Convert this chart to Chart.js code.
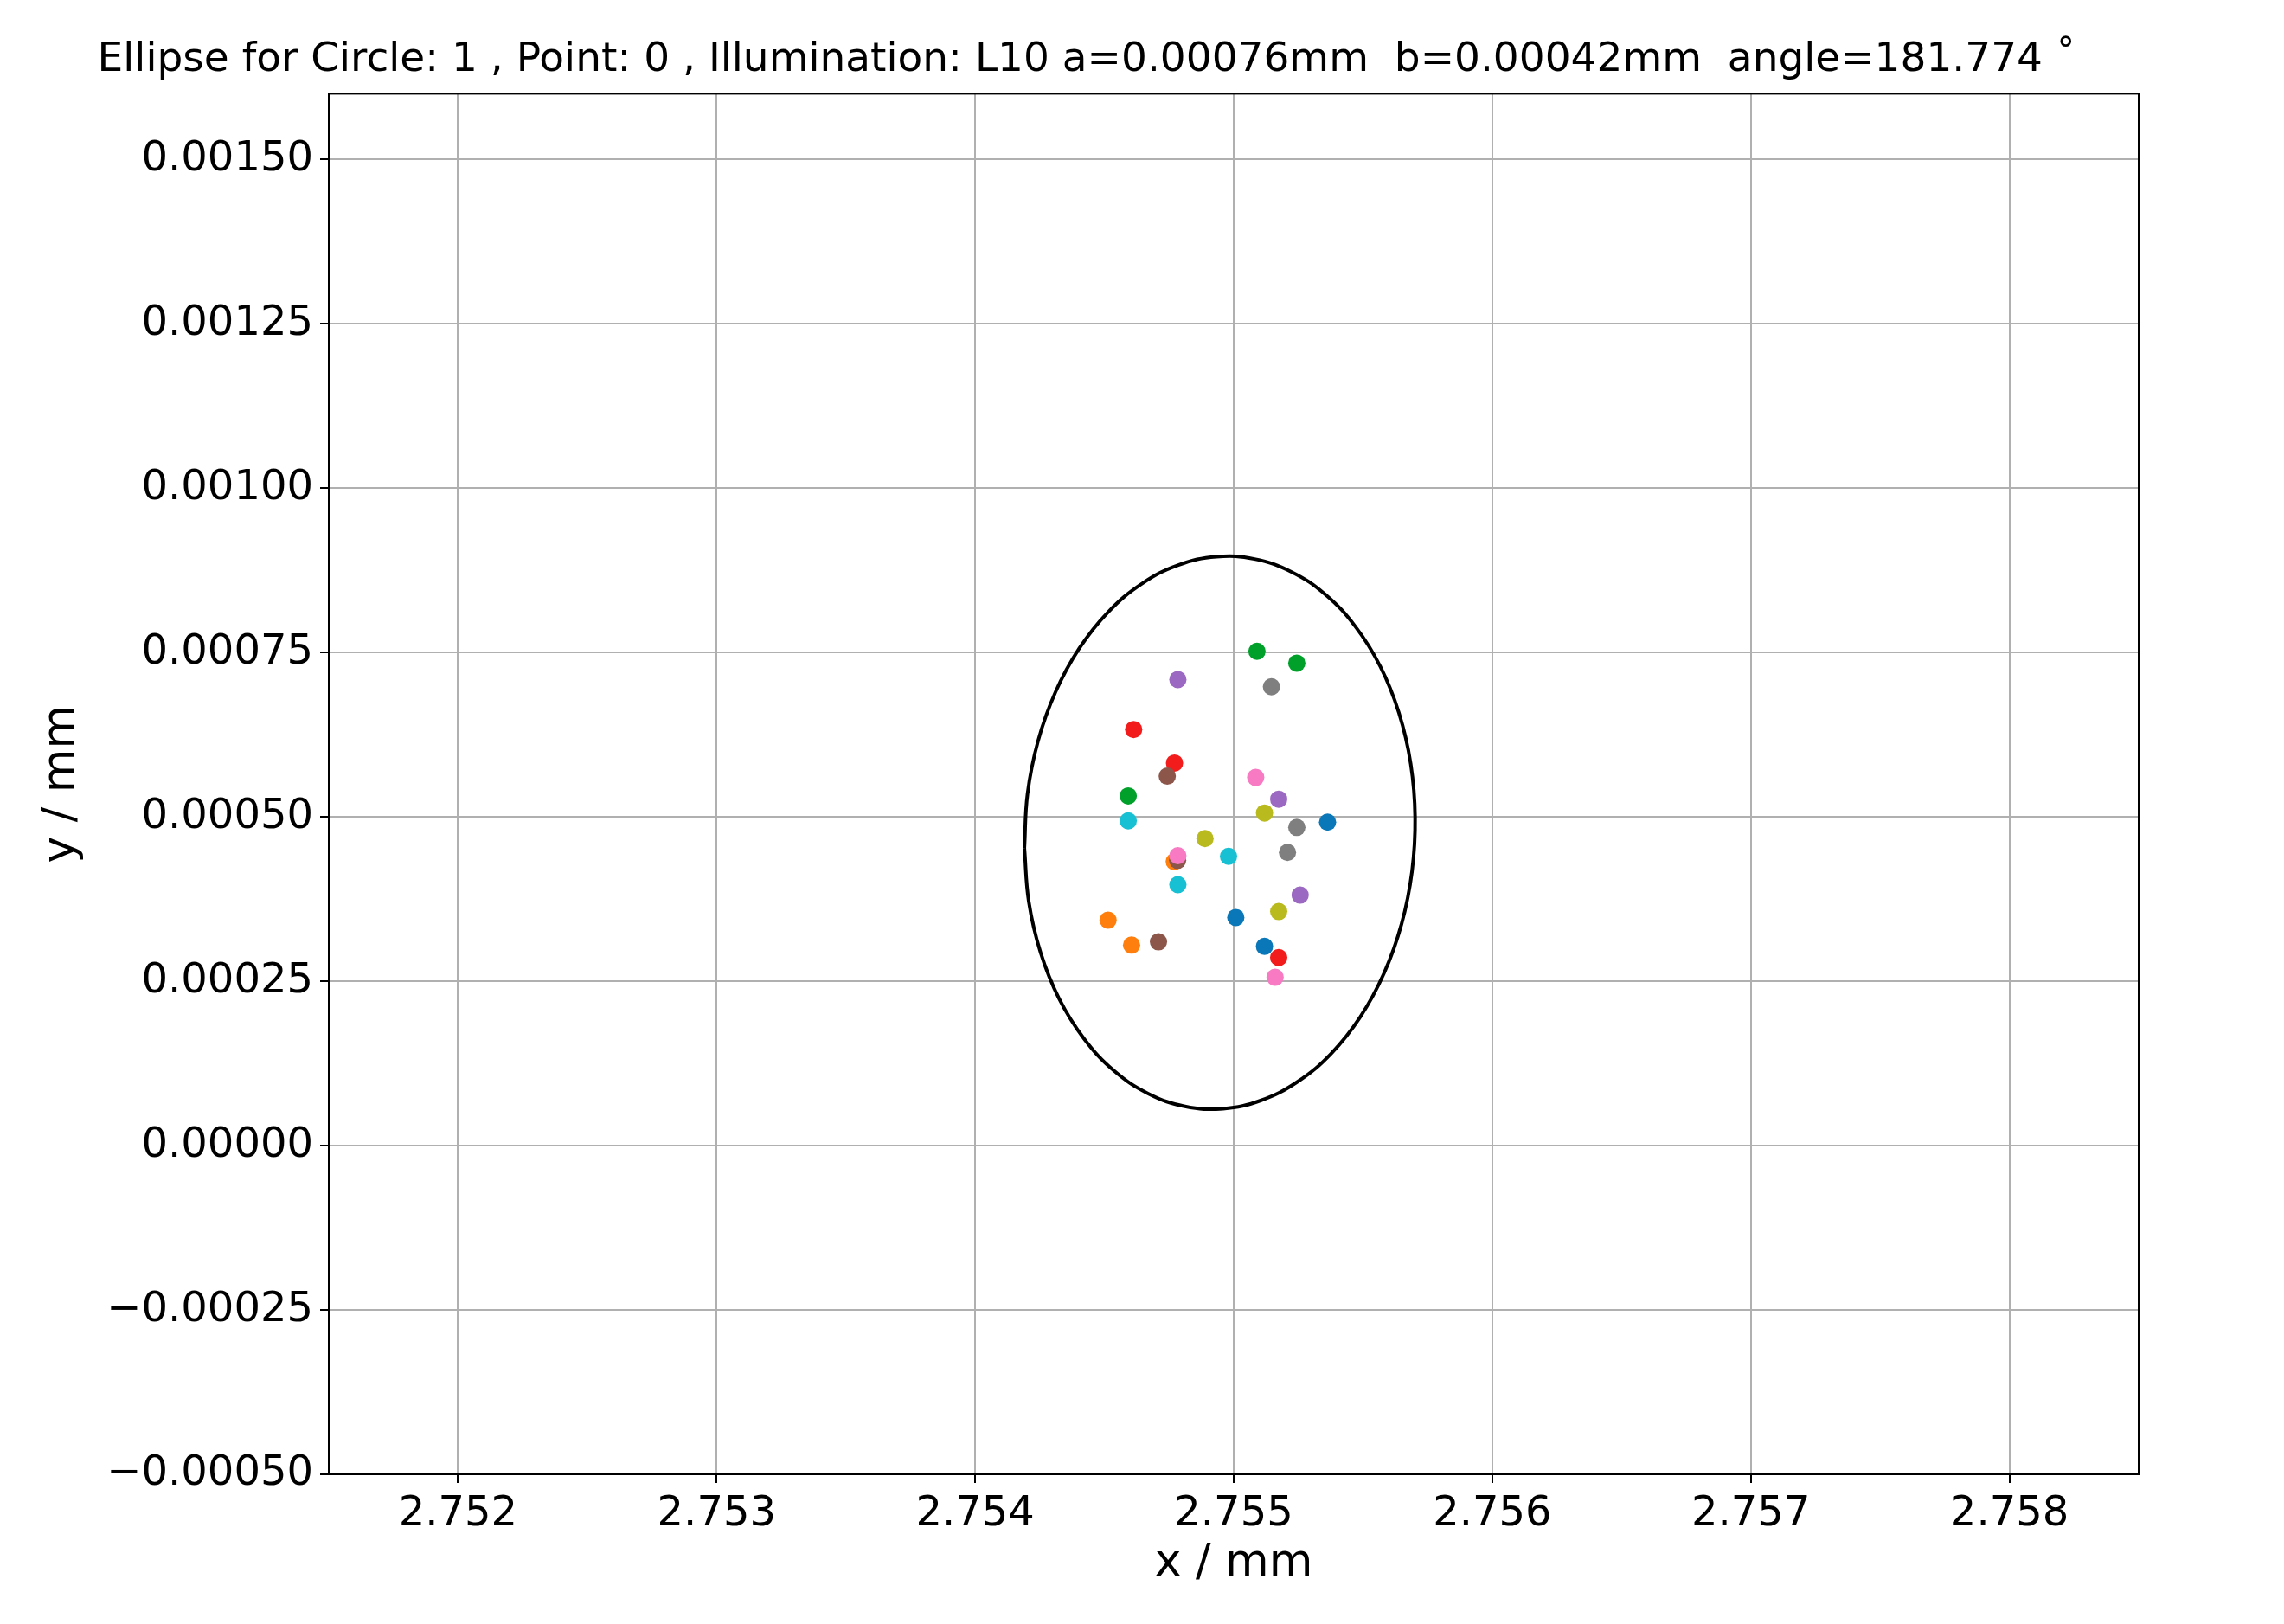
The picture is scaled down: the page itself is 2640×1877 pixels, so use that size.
<!DOCTYPE html>
<html><head><meta charset="utf-8">
<script src="https://cdn.jsdelivr.net/npm/chart.js@4"></script>
<style>html,body{margin:0;padding:0;background:#fff}</style>
</head><body>
<canvas id="c" width="2640" height="1877"></canvas>
<script>
const titleText = "Ellipse for Circle: 1 , Point: 0 , Illumination: L10 a=0.00076mm  b=0.00042mm  angle=181.774 \u02DA";
const xTicks = [2.752, 2.753, 2.754, 2.755, 2.756, 2.757, 2.758];
const yTicks = [-0.0005, -0.00025, 0, 0.00025, 0.0005, 0.00075, 0.001, 0.00125, 0.0015];
const seriesColors = ["#0a77b8", "#ff7f0e", "#00a02a", "#f21c1c", "#9b68c2", "#8c564b", "#f77ac2", "#7f7f7f", "#b9ba1d", "#17c0d2"];
const pointsX = [
  [2.755363, 2.755008, 2.755119],
  [2.754770, 2.754514, 2.754605],
  [2.755090, 2.755244, 2.754592],
  [2.754613, 2.754771, 2.755174],
  [2.754784, 2.755174, 2.755257],
  [2.754743, 2.754783, 2.754709],
  [2.755085, 2.754784, 2.755160],
  [2.755146, 2.755244, 2.755208],
  [2.755119, 2.754889, 2.755174],
  [2.754592, 2.754980, 2.754784]
];
const pointsY = [
  [0.000492, 0.000347, 0.000303],
  [0.000432, 0.000343, 0.000305],
  [0.000752, 0.000734, 0.000532],
  [0.000633, 0.000582, 0.000286],
  [0.000709, 0.000527, 0.000381],
  [0.000562, 0.000434, 0.000310],
  [0.000560, 0.000441, 0.000256],
  [0.000698, 0.000484, 0.000446],
  [0.000506, 0.000467, 0.000356],
  [0.000494, 0.000440, 0.000397]
];
const ellipseX = [2.7541904, 2.7542074, 2.754253, 2.7543249, 2.754421, 2.754537, 2.754669, 2.7548114, 2.754959, 2.7551062, 2.755247, 2.7553766, 2.7554895, 2.7555815, 2.755649, 2.7556896, 2.7557016, 2.7556846, 2.755639, 2.7555671, 2.7554711, 2.755355, 2.755223, 2.7550806, 2.754933, 2.7547858, 2.754645, 2.7545154, 2.7544025, 2.7543105, 2.754243, 2.7542024, 2.7541904];
const ellipseY = [0.0004526, 0.0003711, 0.0002937, 0.0002233, 0.0001627, 0.0001139, 0.0000792, 0.0000597, 0.0000562, 0.0000689, 0.0000972, 0.0001399, 0.0001957, 0.0002623, 0.0003369, 0.0004171, 0.0004994, 0.0005809, 0.0006583, 0.0007287, 0.0007893, 0.0008381, 0.0008728, 0.0008923, 0.0008958, 0.0008831, 0.0008548, 0.0008121, 0.0007563, 0.0006897, 0.0006151, 0.0005349, 0.0004526];

const datasets = [{
  type: 'line',
  data: ellipseX.map((x, i) => ({x: x, y: ellipseY[i]})),
  borderColor: '#000', borderWidth: 4, pointRadius: 0, fill: false,
  tension: 0.4, showLine: true, order: 20
}];
seriesColors.forEach((c, k) => {
  datasets.push({
    type: 'scatter',
    data: pointsX[k].map((x, i) => ({x: x, y: pointsY[k][i]})),
    backgroundColor: c, borderColor: c, pointRadius: 10, borderWidth: 0, order: 10 - k
  });
});

const frame = {
  id: 'frame',
  afterDraw(chart) {
    const a = chart.chartArea, ctx = chart.ctx;
    ctx.save(); ctx.strokeStyle = '#000'; ctx.lineWidth = 2;
    ctx.strokeRect(a.left, a.top, a.right - a.left, a.bottom - a.top);
    ctx.restore();
  }
};

new Chart(document.getElementById('c'), {
  data: {datasets},
  plugins: [frame],
  options: {
    responsive: false, animation: false, devicePixelRatio: 1,
    layout: {padding: {left: 40, right: 168, top: 0, bottom: 38}},
    plugins: {
      legend: {display: false}, tooltip: {enabled: false},
      title: {display: true, text: titleText, color: '#000',
        font: {family: 'DejaVu Sans', size: 47, weight: 'normal'},
        padding: {top: 42, bottom: 10}}
    },
    scales: {
      x: {type: 'linear', min: 2.7515, max: 2.7585,
        afterBuildTicks: s => { s.ticks = xTicks.map(v => ({value: v})); },
        afterFit: s => { s.height = 135; },
        ticks: {color: '#000', font: {family: 'DejaVu Sans', size: 48}, padding: 8,
          callback: v => v.toFixed(3), maxRotation: 0},
        grid: {color: '#b0b0b0', lineWidth: 2, tickColor: '#000', tickLength: 10},
        border: {display: false},
        title: {display: true, text: 'x / mm', color: '#000',
          font: {family: 'DejaVu Sans', size: 52}, padding: {top: 0, bottom: 0}}
      },
      y: {type: 'linear', min: -0.0005, max: 0.0016,
        afterBuildTicks: s => { s.ticks = yTicks.map(v => ({value: v})); },
        afterFit: s => { s.width = 340; },
        ticks: {color: '#000', font: {family: 'DejaVu Sans', size: 48}, padding: 8,
          callback: v => (Math.abs(v) < 1e-12 ? 0 : v).toFixed(5).replace('-', '\u2212')},
        grid: {color: '#b0b0b0', lineWidth: 2, tickColor: '#000', tickLength: 10},
        border: {display: false},
        title: {display: true, text: 'y / mm', color: '#000',
          font: {family: 'DejaVu Sans', size: 52}, padding: {bottom: 0, top: 0}}
      }
    }
  }
});
</script>
</body></html>
